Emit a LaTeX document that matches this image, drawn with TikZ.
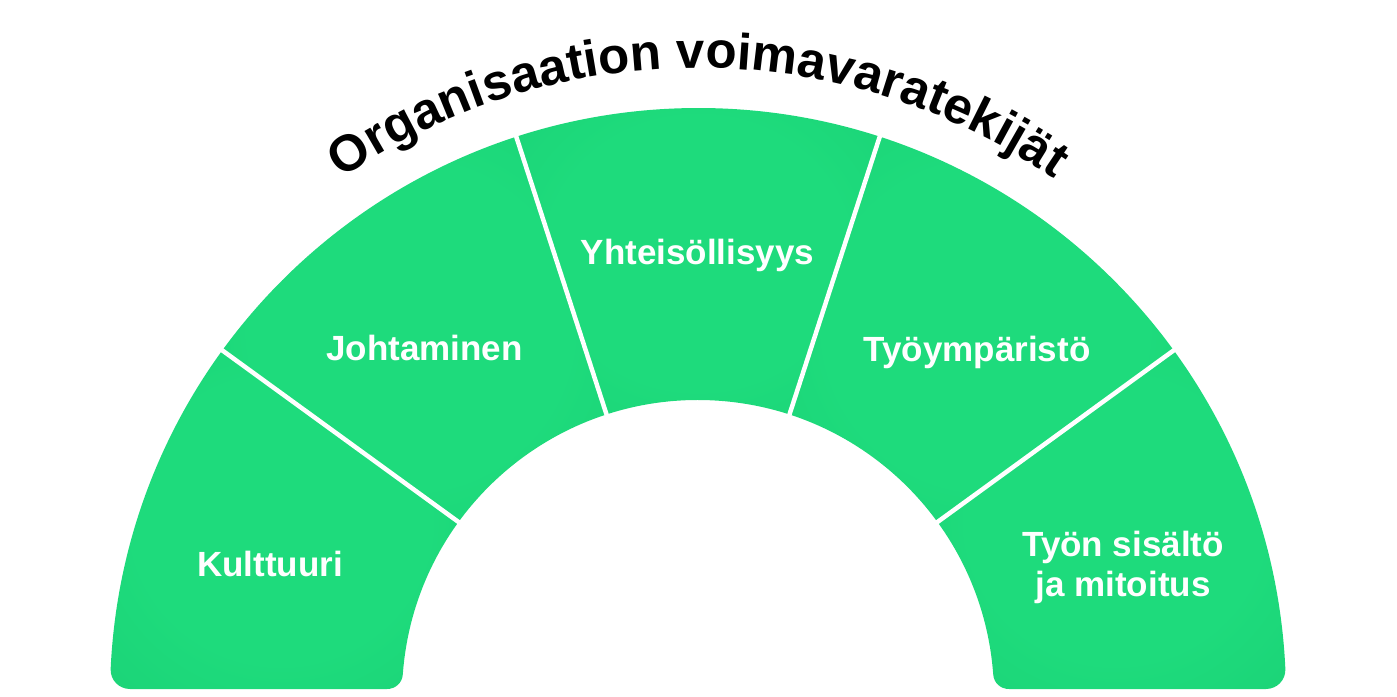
\documentclass[tikz,border=0pt]{standalone}
\usepackage{fontspec}
\setmainfont{Liberation Sans}
\usetikzlibrary{decorations.text}
\definecolor{greenlight}{HTML}{1EDB7C}
\definecolor{greendark}{HTML}{17C971}
\pgfdeclareradialshading{segglow}{\pgfpoint{0bp}{0bp}}{color(0bp)=(greenlight); color(20bp)=(greenlight); color(55bp)=(greendark)}

\begin{document}
\begin{tikzpicture}[line cap=round,line join=round,x=1pt,y=1pt,
  seglabel/.style={text=white,font=\fontsize{35}{40}\selectfont\bfseries,anchor=base,align=center}]
\useasboundingbox (0,0) rectangle (1397,696);
\begin{scope}[shift={(698,0)}]
\begin{scope}
\clip (2.63:588) arc (2.63:177.37:588) .. controls (-587.8,16) and (-579,7) .. (-568,7)
  -- (-311,7) .. controls (-302.7,7) and (-295.6,13) .. (175.74:296)
  arc (175.74:4.26:296) .. controls (295.6,13) and (302.7,7) .. (311,7)
  -- (568,7) .. controls (579,7) and (587.8,16) .. cycle;
\foreach \a in {0,36,...,144}
  \shade[shading=segglow] (\a:290) -- (\a:600) arc (\a:\a+36:600) -- (\a+36:290) arc (\a+36:\a:290) -- cycle;
\end{scope}
%
\foreach \a in {36,72,108,144}
  \draw[white,line width=4.5] (\a:290) -- (\a:594);
%
\path[decorate,decoration={text along path,text align=center,
  text={|\fontsize{51}{60}\selectfont\bfseries|Organisaation voimavaratekijät}}]
  (180:628) arc (180:0:628);
\end{scope}
%
\node[seglabel] (kulttuuri) at (270,119) {Kulttuuri};
\node[seglabel] (johtaminen) at (424.5,335) {Johtaminen};
\node[seglabel] (yhteisollisyys) at (697.5,431) {Yhteisöllisyys};
\node[seglabel] (tyoymparisto) at (977,334) {Työympäristö};
\node[seglabel] (tyonsisalto) at (1123,99) {Työn sisältö\\ja mitoitus};
\end{tikzpicture}
\end{document}
